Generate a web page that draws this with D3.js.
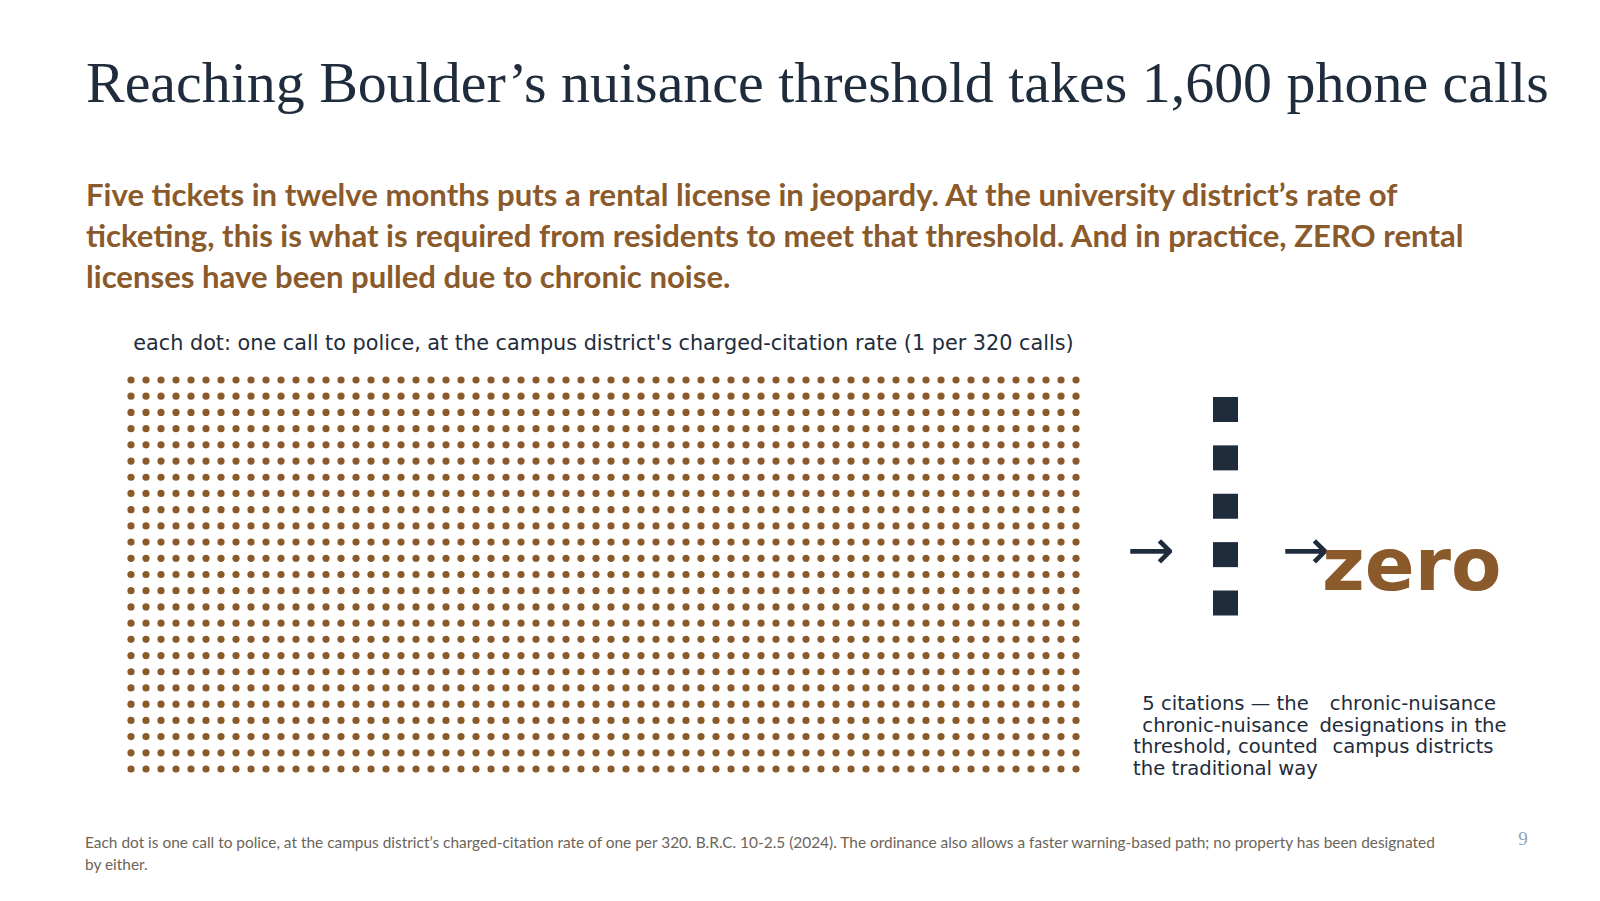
<!DOCTYPE html>
<html>
<head>
<meta charset="utf-8">
<script src="https://cdn.jsdelivr.net/npm/d3@7"></script>
<style>
  html, body { margin: 0; padding: 0; background: #ffffff; }
  svg { display: block; }
</style>
</head>
<body>
<svg id="chart" width="1600" height="901"></svg>
<script>
// ---- data ----
const callCount = 1600;          // calls needed to reach threshold
const citationCount = 5;         // citations = chronic-nuisance threshold
const designationCount = 0;      // designations in campus districts
const gridColumns = 64;

const titleText = "Reaching Boulder\u2019s nuisance threshold takes 1,600 phone calls";
const subtitleLines = [
  "Five tickets in twelve months puts a rental license in jeopardy. At the university district\u2019s rate of",
  "ticketing, this is what is required from residents to meet that threshold. And in practice, ZERO rental",
  "licenses have been pulled due to chronic noise."
];
const chartTitle = "each dot: one call to police, at the campus district's charged-citation rate (1 per 320 calls)";
const leftNoteLines = ["5 citations \u2014 the", "chronic-nuisance", "threshold, counted", "the traditional way"];
const rightNoteLines = ["chronic-nuisance", "designations in the", "campus districts"];
const zeroLabel = "zero";
const footerLines = [
  "Each dot is one call to police, at the campus district\u2019s charged-citation rate of one per 320. B.R.C. 10-2.5 (2024). The ordinance also allows a faster warning-based path; no property has been designated",
  "by either."
];
const pageNumber = "9";

// ---- drawing ----
const navy = "#1e2c3c";
const brown = "#8b5a2b";
const svg = d3.select("#chart");
svg.append("rect").attr("width", 1600).attr("height", 901).attr("fill", "#ffffff");

function fitWidth(sel, target) {
  const w = sel.node().getComputedTextLength();
  const fs = parseFloat(sel.attr("font-size"));
  sel.attr("font-size", fs * target / w);
  return fs * target / w;
}

// Title
const title = svg.append("text")
  .attr("x", 86).attr("y", 102)
  .attr("font-family", "'Liberation Serif', 'DejaVu Serif', serif")
  .attr("font-size", 54)
  .attr("fill", navy)
  .text(titleText);
fitWidth(title, 1463);

// Subtitle
const subSel = svg.append("g").selectAll("text").data(subtitleLines).join("text")
  .attr("x", 86)
  .attr("y", (d, i) => 206 + i * 40.8)
  .attr("font-family", "Lato, 'Open Sans', sans-serif")
  .attr("font-weight", 700)
  .attr("font-size", 28)
  .attr("fill", brown)
  .text(d => d);
{
  const n = subSel.nodes()[1];
  const w = n.getComputedTextLength();
  const fs = 28 * 1378 / w;
  subSel.attr("font-size", fs);
}

// Dot grid
const rows = Math.ceil(callCount / gridColumns);
const xDot = d3.scaleLinear().domain([0, gridColumns - 1]).range([131, 1076]);
const yDot = d3.scaleLinear().domain([0, rows - 1]).range([380, 769]);

const ct = svg.append("text")
  .attr("x", (xDot(0) + xDot(gridColumns - 1)) / 2)
  .attr("y", 350)
  .attr("text-anchor", "middle")
  .attr("font-family", "'DejaVu Sans', sans-serif")
  .attr("font-size", 20.4)
  .attr("fill", navy)
  .text(chartTitle);
fitWidth(ct, 941);

svg.append("g").selectAll("circle").data(d3.range(callCount)).join("circle")
  .attr("cx", d => xDot(d % gridColumns))
  .attr("cy", d => yDot(Math.floor(d / gridColumns)))
  .attr("r", 3.6)
  .attr("fill", brown);

// Citation squares
const sqSize = 25;
const ySq = d3.scaleLinear().domain([0, citationCount - 1]).range([409.5, 603]);
const sqX = 1225.5;
svg.append("g").selectAll("rect").data(d3.range(citationCount)).join("rect")
  .attr("x", sqX - sqSize / 2)
  .attr("y", d => ySq(d) - sqSize / 2)
  .attr("width", sqSize).attr("height", sqSize)
  .attr("fill", navy);

// Arrows
[1151, 1306].forEach(cx => {
  svg.append("text")
    .attr("x", cx).attr("y", 549)
    .attr("text-anchor", "middle")
    .attr("dominant-baseline", "central")
    .attr("font-family", "'DejaVu Sans', sans-serif")
    .attr("font-size", 57)
    .attr("fill", navy)
    .text("\u2192");
});

// zero label
svg.append("text")
  .attr("x", 1322).attr("y", 590)
  .attr("font-family", "'DejaVu Sans', sans-serif")
  .attr("font-weight", 700)
  .attr("font-size", 73.5)
  .attr("fill", brown)
  .text(designationCount === 0 ? zeroLabel : String(designationCount));

// Notes
const noteSize = 19.6;
const noteStep = 21.7;
svg.append("g").selectAll("text").data(leftNoteLines).join("text")
  .attr("x", sqX)
  .attr("y", (d, i) => 710 + i * noteStep)
  .attr("text-anchor", "middle")
  .attr("font-family", "'DejaVu Sans', sans-serif")
  .attr("font-size", noteSize)
  .attr("fill", navy)
  .text(d => d);

svg.append("g").selectAll("text").data(rightNoteLines).join("text")
  .attr("x", 1413)
  .attr("y", (d, i) => 710 + i * noteStep)
  .attr("text-anchor", "middle")
  .attr("font-family", "'DejaVu Sans', sans-serif")
  .attr("font-size", noteSize)
  .attr("fill", navy)
  .text(d => d);

// Footer
const footSel = svg.append("g").selectAll("text").data(footerLines).join("text")
  .attr("x", 85)
  .attr("y", (d, i) => 848 + i * 21.5)
  .attr("font-family", "Lato, 'Open Sans', sans-serif")
  .attr("font-size", 14)
  .attr("fill", "#6b655a")
  .text(d => d);
{
  const n = footSel.nodes()[0];
  const w = n.getComputedTextLength();
  footSel.attr("font-size", 14 * 1351 / w);
}

// Page number
svg.append("text")
  .attr("x", 1523).attr("y", 845)
  .attr("text-anchor", "middle")
  .attr("font-family", "'Liberation Serif', serif")
  .attr("font-size", 19)
  .attr("fill", "#8fa5bc")
  .text(pageNumber);
</script>
</body>
</html>
